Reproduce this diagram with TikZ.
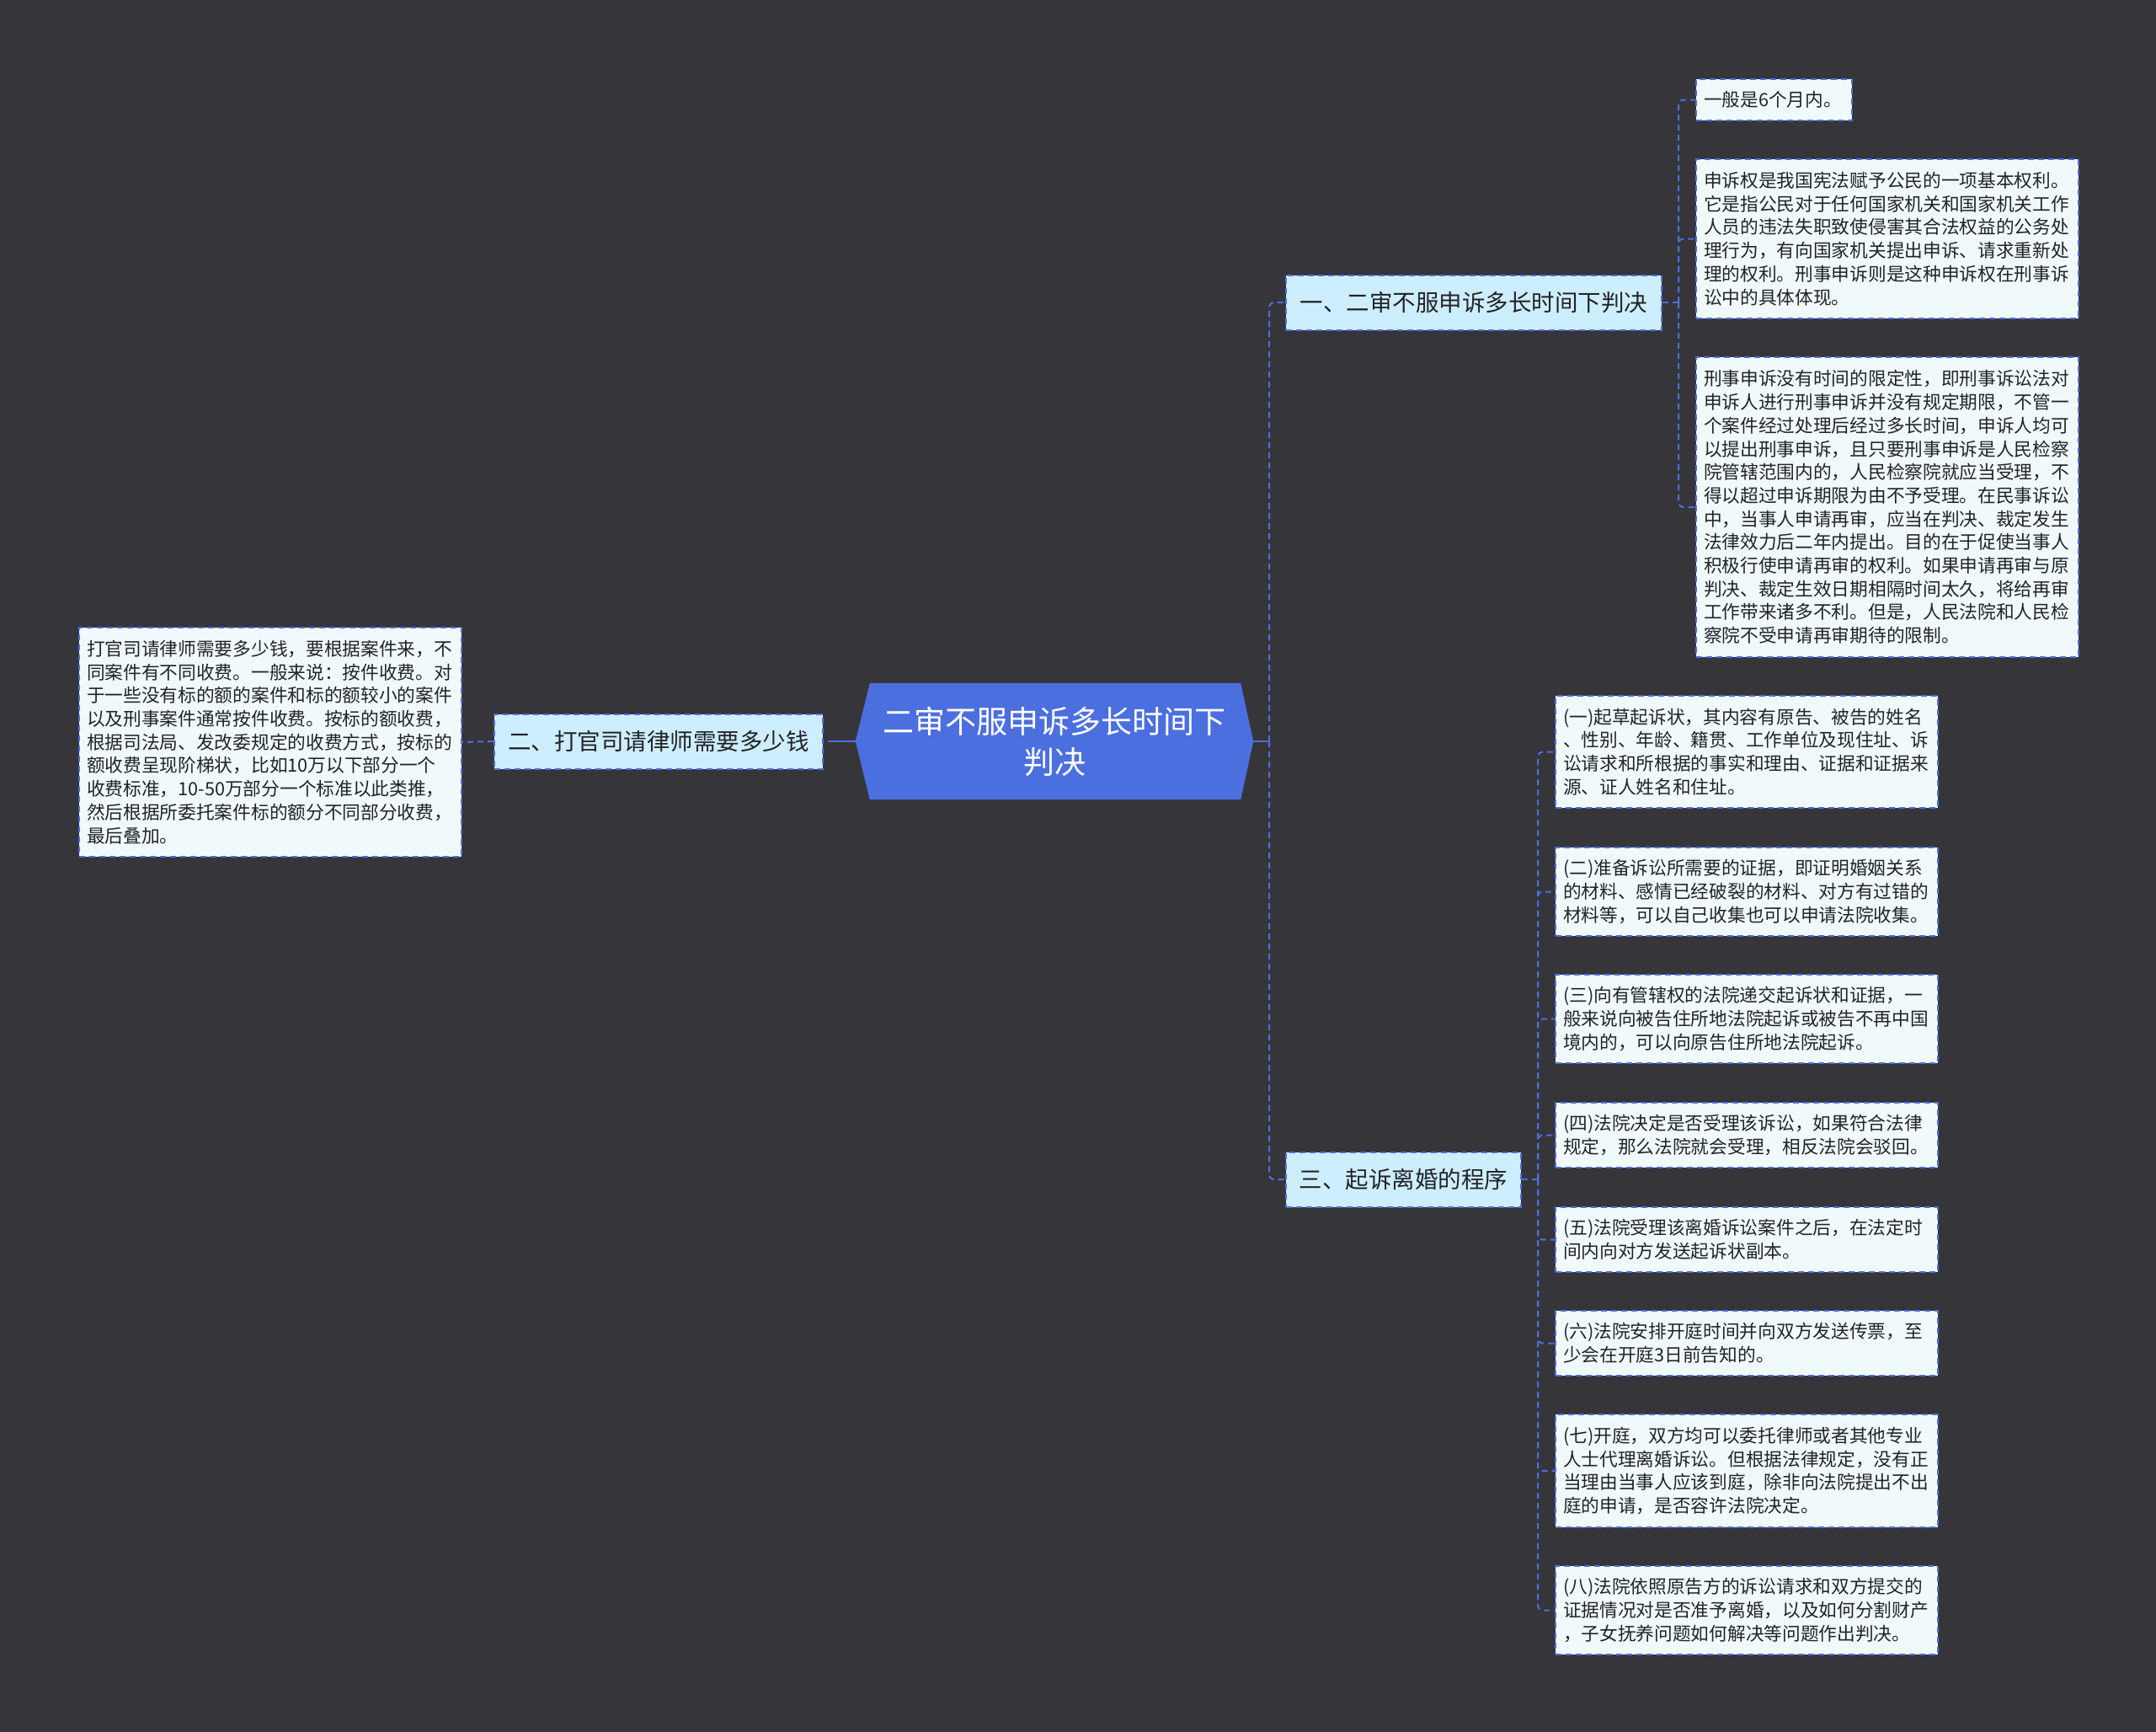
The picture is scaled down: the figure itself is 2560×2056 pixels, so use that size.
\documentclass[tikz,border=0pt]{standalone}
\usepackage{fontspec}
\setmainfont{Noto Sans CJK SC}
\definecolor{bg}{RGB}{54,53,57}
\definecolor{blu}{RGB}{76,111,224}
\definecolor{lvlfill}{RGB}{205,238,255}
\definecolor{leaffill}{RGB}{240,250,253}
\definecolor{txt}{RGB}{35,35,38}
\tikzset{
  dsh/.style={dash pattern=on 7pt off 5pt},
  conn/.style={draw=blu, line width=2pt, dsh, rounded corners=6pt},
  solidconn/.style={draw=blu, line width=2.4pt},
  lvlone/.style={draw=blu, fill=lvlfill, line width=2pt, dsh, text=txt,
    font=\fontsize{27.5}{33}\selectfont, minimum height=65pt, inner sep=0pt},
  leafbox/.style={draw=blu, fill=leaffill, line width=2pt, dsh, text=txt,
    font=\fontsize{21.7}{27.7}\selectfont, align=left, text width=436pt,
    inner xsep=9pt, inner ysep=0pt, anchor=north west},
}
\begin{document}
\begin{tikzpicture}[x=1pt,y=-1pt]
\fill[bg] (0,0) rectangle (2560,2056);
\useasboundingbox (0,0) rectangle (2560,2056);

% central node
\node[minimum width=472pt, minimum height=138pt, inner sep=0pt] (c) at (1252,880) {};
\fill[blu] (c.west) -- ([xshift=17pt]c.north west) -- ([xshift=-15pt]c.north east)
  -- (c.east) -- ([xshift=-15pt]c.south east) -- ([xshift=17pt]c.south west) -- cycle;
\node[text=white, align=center, font=\fontsize{37}{48}\selectfont] (ct) at (c.center)
  {二审不服申诉多长时间下\\判决};

% level one
\node[lvlone, minimum width=446pt] (n1) at (1750,359) {一、二审不服申诉多长时间下判决};
\node[lvlone, minimum width=390pt] (n2) at (782,880) {二、打官司请律师需要多少钱};
\node[lvlone, minimum width=279pt] (n3) at (1666.5,1400) {三、起诉离婚的程序};

% leaves of n1
\node[leafbox, text width=167pt, minimum height=49pt] (a1) at (2013,93) {一般是6个月内。};
\node[leafbox, minimum height=189pt] (a2) at (2013,188) {申诉权是我国宪法赋予公民的一项基本权利。\\
它是指公民对于任何国家机关和国家机关工作\\
人员的违法失职致使侵害其合法权益的公务处\\
理行为，有向国家机关提出申诉、请求重新处\\
理的权利。刑事申诉则是这种申诉权在刑事诉\\
讼中的具体体现。};
\node[leafbox, minimum height=356pt] (a3) at (2013,423) {刑事申诉没有时间的限定性，即刑事诉讼法对\\
申诉人进行刑事申诉并没有规定期限，不管一\\
个案件经过处理后经过多长时间，申诉人均可\\
以提出刑事申诉，且只要刑事申诉是人民检察\\
院管辖范围内的，人民检察院就应当受理，不\\
得以超过申诉期限为由不予受理。在民事诉讼\\
中，当事人申请再审，应当在判决、裁定发生\\
法律效力后二年内提出。目的在于促使当事人\\
积极行使申请再审的权利。如果申请再审与原\\
判决、裁定生效日期相隔时间太久，将给再审\\
工作带来诸多不利。但是，人民法院和人民检\\
察院不受申请再审期待的限制。};

% leaf of n2
\node[leafbox, minimum height=272pt] (b1) at (93,744) {打官司请律师需要多少钱，要根据案件来，不\\
同案件有不同收费。一般来说：按件收费。对\\
于一些没有标的额的案件和标的额较小的案件\\
以及刑事案件通常按件收费。按标的额收费，\\
根据司法局、发改委规定的收费方式，按标的\\
额收费呈现阶梯状，比如10万以下部分一个\\
收费标准，10-50万部分一个标准以此类推，\\
然后根据所委托案件标的额分不同部分收费，\\
最后叠加。};

% leaves of n3
\node[leafbox, minimum height=133pt] (r1) at (1846,825) {(一)起草起诉状，其内容有原告、被告的姓名\\
、性别、年龄、籍贯、工作单位及现住址、诉\\
讼请求和所根据的事实和理由、证据和证据来\\
源、证人姓名和住址。};
\node[leafbox, minimum height=105pt] (r2) at (1846,1005) {(二)准备诉讼所需要的证据，即证明婚姻关系\\
的材料、感情已经破裂的材料、对方有过错的\\
材料等，可以自己收集也可以申请法院收集。};
\node[leafbox, minimum height=105pt] (r3) at (1846,1156) {(三)向有管辖权的法院递交起诉状和证据，一\\
般来说向被告住所地法院起诉或被告不再中国\\
境内的，可以向原告住所地法院起诉。};
\node[leafbox, minimum height=77pt] (r4) at (1846,1308) {(四)法院决定是否受理该诉讼，如果符合法律\\
规定，那么法院就会受理，相反法院会驳回。};
\node[leafbox, minimum height=77pt] (r5) at (1846,1432) {(五)法院受理该离婚诉讼案件之后，在法定时\\
间内向对方发送起诉状副本。};
\node[leafbox, minimum height=77pt] (r6) at (1846,1555) {(六)法院安排开庭时间并向双方发送传票，至\\
少会在开庭3日前告知的。};
\node[leafbox, minimum height=134pt] (r7) at (1846,1678) {(七)开庭，双方均可以委托律师或者其他专业\\
人士代理离婚诉讼。但根据法律规定，没有正\\
当理由当事人应该到庭，除非向法院提出不出\\
庭的申请，是否容许法院决定。};
\node[leafbox, minimum height=105pt] (r8) at (1846,1858) {(八)法院依照原告方的诉讼请求和双方提交的\\
证据情况对是否准予离婚，以及如何分割财产\\
，子女抚养问题如何解决等问题作出判决。};

% junction coordinates
\coordinate (jr) at (1507,880);
\coordinate (jl) at (990,880);
\coordinate (j1) at (1993,359);
\coordinate (j3) at (1826,1400);

% connectors
\draw[solidconn] (c.east) -- (jr);
\draw[conn] (jr) |- (n1.west);
\draw[conn] (jr) |- (n3.west);
\draw[solidconn] (c.west) -- (jl);
\draw[conn] (jl) -- (n2.east);
\draw[conn] (n2.west) -- (b1.east);

\draw[conn] (n1.east) -- (j1);
\draw[conn] (j1) |- (a1.west);
\draw[conn] (j1) |- (a2.west);
\draw[conn] (j1) |- (a3.west);

\draw[conn] (n3.east) -- (j3);
\foreach \r in {r1,r2,r3,r4,r5,r6,r7,r8}{
  \draw[conn] (j3) |- (\r.west);
}
\end{tikzpicture}
\end{document}
